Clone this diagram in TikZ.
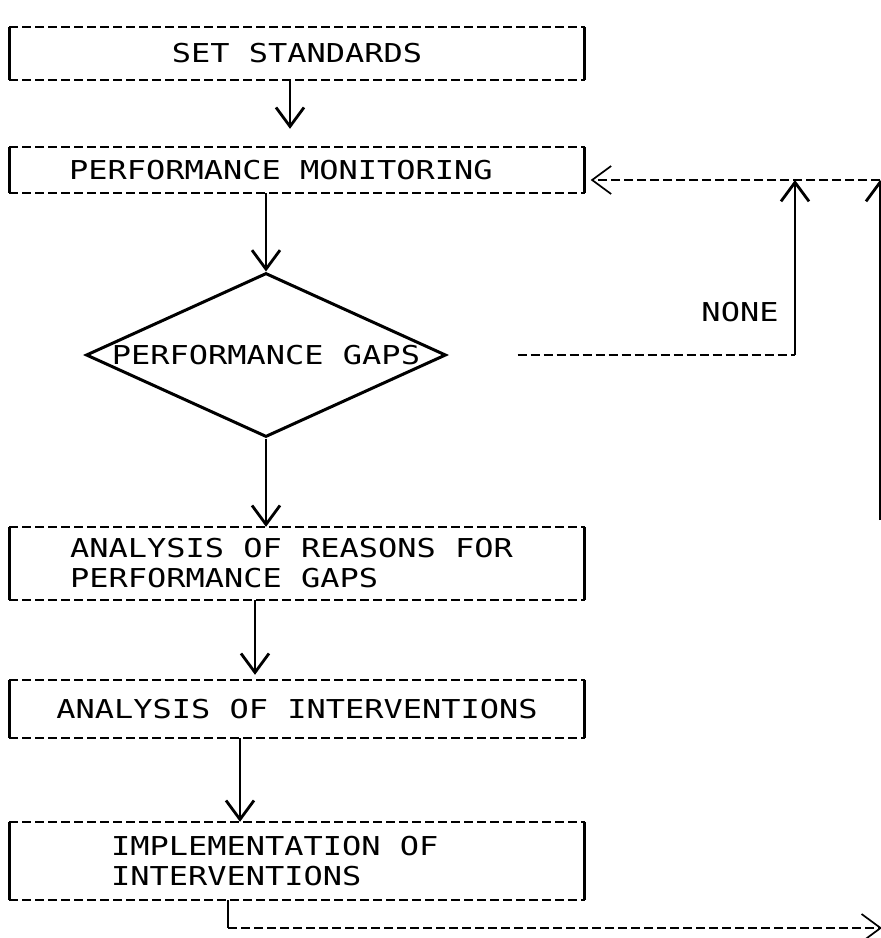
\documentclass[tikz,border=0pt]{standalone}
\usepackage{fontspec}
\newfontfamily\plotterfont[FakeStretch=1.23]{DejaVu Sans Mono}
\usepackage{tikz}
\usetikzlibrary{arrows.meta,shapes.geometric}

\begin{document}
\begin{tikzpicture}[x=1pt,y=-1pt,
    dashline/.style={dash pattern=on 9pt off 4pt,line width=1.7pt},
    sideline/.style={line width=3pt},
    twoline/.style={align=left,execute at begin node={\spaceskip=0pt\xspaceskip=0pt\relax}}]
    \useasboundingbox (0,0) rectangle (881,938);

    \begin{scope}[every node/.style={font=\plotterfont\fontsize{26}{30}\selectfont,
        minimum width=575pt,inner sep=0pt}]
      \node (set) at (297,53.5) [minimum height=53pt] {SET STANDARDS};
      \node (monitor) at (297,170) [minimum height=46pt,text width=456pt,twoline]
        {PERFORMANCE MONITORING};
      \node (reasons) at (297,563.5) [minimum height=73pt,text width=454pt,twoline]
        {ANALYSIS OF REASONS FOR\\PERFORMANCE GAPS};
      \node (analysis) at (297,709) [minimum height=58pt] {ANALYSIS OF INTERVENTIONS};
      \node (implement) at (297,861) [minimum height=78pt,text width=372pt,twoline]
        {IMPLEMENTATION OF\\INTERVENTIONS};
    \end{scope}

    \node (gaps) at (266,355) [diamond,draw,line width=3pt,inner sep=0pt,
      minimum width=360pt,minimum height=164pt,
      label=center:{\plotterfont\fontsize{26}{30}\selectfont PERFORMANCE GAPS}] {};
    \node (none) at (740,312) {\plotterfont\fontsize{26}{30}\selectfont NONE};

    % boxes: dashed top and bottom, solid sides
    \foreach \b in {set,monitor,reasons,analysis,implement} {
      \draw [dashline] (\b.north west) -- (\b.north east);
      \draw [dashline] (\b.south west) -- (\b.south east);
      \draw [sideline] (\b.north west) -- (\b.south west);
      \draw [sideline] (\b.north east) -- (\b.south east);
    }

    \coordinate (rtop) at (880,180);
    \coordinate (rlow) at (880,520);
    \coordinate (noneend) at (795,355);
    \coordinate (corner) at (228,928);
    \coordinate (outright) at (882,928);

    \begin{scope}[>={Straight Barb[length=19pt,width=28pt]},line width=2.8pt]
      \draw [->,shorten >=18pt] ([xshift=-7pt]set.south) -- ([xshift=-7pt]monitor.north);
      \draw [->] (monitor.south -| gaps.north) -- (gaps.north);
      \draw [->] (gaps.south) -- (gaps.south |- reasons.north);
      \draw [->,shorten >=5pt] ([xshift=-42pt]reasons.south) -- ([xshift=-42pt]analysis.north);
      \draw [->] ([xshift=-57pt]analysis.south) -- ([xshift=-57pt]implement.north);

      % NONE loop back to monitoring
      \draw [dashline] ([xshift=70pt]gaps.east) -- (noneend);
      \draw [->] (noneend) -- (noneend |- rtop);
      \draw [->] (rlow) -- (rtop);
      \draw [->,dashline,shorten >=6pt] (rtop) -- (monitor.east |- rtop);

      % out of implementation
      \draw (implement.south -| corner) -- (corner);
      \draw [->,dashline] (corner) -- (outright);
    \end{scope}
\end{tikzpicture}
\end{document}
